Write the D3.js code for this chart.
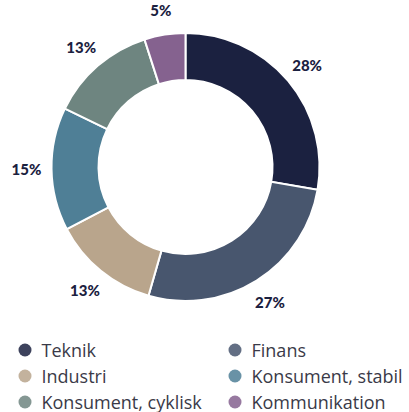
<!DOCTYPE html>
<html><head><meta charset="utf-8">
<script src="https://cdn.jsdelivr.net/npm/d3@7"></script>
<style>html,body{margin:0;padding:0;background:#fff;overflow:hidden}</style>
</head><body>
<svg id="c" width="409" height="412"></svg>
<script>
const categories = ["Teknik","Finans","Industri","Konsument, stabil","Konsument, cyklisk","Kommunikation"];
const values = [28,27,13,15,13,5];
const labels = ["28%","27%","13%","15%","13%","5%"];
const colors = ["#1b2140","#48566e","#b9a58c","#4f7f96","#6e8580","#85628f"];
const legendOrder = [0,1,2,3,4,5];

const svg = d3.select("#c");
const cx = 185.5, cy = 167, R = 134, r = 87;
const g = svg.append("g").attr("transform",`translate(${cx},${cy})`);
const pie = d3.pie().sort(null).value(d=>d)(values);
const arc = d3.arc().innerRadius(r).outerRadius(R);
g.selectAll("path").data(pie).join("path")
  .attr("d",arc).attr("fill",(d,i)=>colors[i])
  .attr("stroke","#fff").attr("stroke-width",2);
const la = d3.arc().innerRadius(159).outerRadius(159);
g.selectAll("text").data(pie).join("text")
  .attr("transform",d=>`translate(${la.centroid(d)})`)
  .attr("text-anchor","middle").attr("dominant-baseline","central")
  .attr("font-family","Lato").attr("font-weight","900").attr("font-size",15)
  .attr("fill","#1b2140").text((d,i)=>labels[i]);

const lg = svg.append("g");
const colX = [25, 235], rowY = [350, 376, 402];
legendOrder.forEach((i,k)=>{
  const x = colX[k%2], y = rowY[Math.floor(k/2)];
  lg.append("circle").attr("cx",x).attr("cy",y).attr("r",6.5).attr("fill",colors[i]).attr("fill-opacity",0.85);
  lg.append("text").attr("x",x+16.5).attr("y",y).attr("dominant-baseline","central")
    .attr("font-family","Open Sans").attr("font-size",18).attr("fill","#3a3a48").text(categories[i]);
});
</script>
</body></html>
